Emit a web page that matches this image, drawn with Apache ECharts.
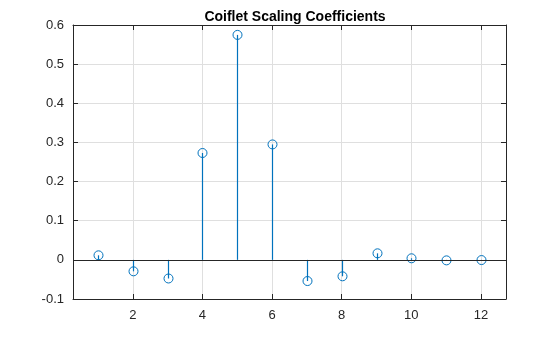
<!DOCTYPE html>
<html>
<head>
<meta charset="utf-8">
<script src="https://cdn.jsdelivr.net/npm/echarts@6/dist/echarts.min.js"></script>
<style>html,body{margin:0;padding:0;background:#fff;}#c{width:560px;height:337px;}</style>
</head>
<body>
<div id="c"></div>
<script>
var titleText = 'Coiflet Scaling Coefficients';
var indices = [1, 2, 3, 4, 5, 6, 7, 8, 9, 10, 11, 12];
var coefficients = [0.0116, -0.0293, -0.0476, 0.2730, 0.5747, 0.2949, -0.0541, -0.0420, 0.0167, 0.0040, -0.0013, -0.0005];
var xTicks = [2, 4, 6, 8, 10, 12];

var chart = echarts.init(document.getElementById('c'), null, {renderer: 'canvas'});
var axisColor = '#262626';
var gridColor = '#dfdfdf';
var stemColor = '#0072BD';
var fontFam = 'Liberation Sans, Arial, Helvetica, sans-serif';

function xAxisCfg(pos, showLabel) {
  return {
    type: 'value', position: pos, min: 0.28, max: 12.72,
    axisLine: {show: true, onZero: false, lineStyle: {color: axisColor, width: 1}},
    axisTick: {show: true, inside: true, length: 5, customValues: xTicks, lineStyle: {color: axisColor}},
    axisLabel: {show: showLabel, customValues: xTicks, color: axisColor, fontSize: 13, fontFamily: fontFam, margin: 10},
    splitLine: {show: pos === 'bottom', lineStyle: {color: gridColor, width: 1}}
  };
}
function yAxisCfg(pos, showLabel) {
  return {
    type: 'value', position: pos, min: -0.1, max: 0.6, interval: 0.1,
    axisLine: {show: true, lineStyle: {color: axisColor, width: 1}},
    axisTick: {show: true, inside: true, length: 5, lineStyle: {color: axisColor}},
    axisLabel: {show: showLabel, color: axisColor, fontSize: 13, fontFamily: fontFam, margin: 9,
      formatter: function (v) { return String(Math.round(v * 10) / 10); }},
    splitLine: {show: pos === 'left', lineStyle: {color: gridColor, width: 1}}
  };
}

var data = indices.map(function (x, i) { return [x, coefficients[i]]; });

chart.setOption({
  animation: false,
  backgroundColor: '#ffffff',
  title: {
    text: titleText, left: 290, top: 5, textAlign: 'center',
    textStyle: {fontFamily: fontFam, fontSize: 14, fontWeight: 'bold', color: '#000'}
  },
  grid: {left: 73, right: 54, top: 25, bottom: 38, containLabel: false},
  xAxis: [xAxisCfg('bottom', true), xAxisCfg('top', false)],
  yAxis: [yAxisCfg('left', true), yAxisCfg('right', false)],
  series: [{
    type: 'custom',
    xAxisIndex: 0, yAxisIndex: 0,
    data: data,
    renderItem: function (params, api) {
      var p = api.coord([api.value(0), api.value(1)]);
      var b = api.coord([api.value(0), 0]);
      var sx = Math.round(p[0]) + 0.5;
      return {
        type: 'group',
        children: [
          {type: 'line', shape: {x1: sx, y1: b[1], x2: sx, y2: p[1]}, style: {stroke: stemColor, lineWidth: 1.2}},
          {type: 'circle', shape: {cx: sx, cy: p[1], r: 4.5}, style: {fill: null, stroke: stemColor, lineWidth: 1}}
        ]
      };
    },
    markLine: {
      silent: true, symbol: 'none', label: {show: false},
      lineStyle: {color: axisColor, width: 1, type: 'solid'},
      data: [{yAxis: 0}]
    },
    z: 3
  }]
});
</script>
</body>
</html>
